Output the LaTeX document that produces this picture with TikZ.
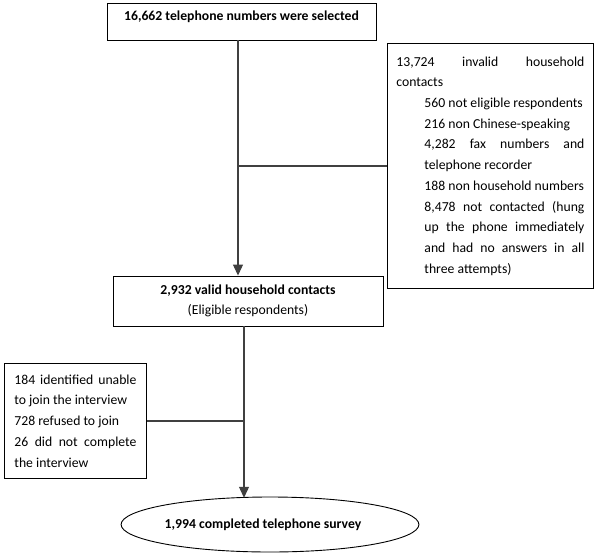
\documentclass[tikz,border=0pt]{standalone}
\usepackage{fontspec}
\setmainfont{Carlito}
\usetikzlibrary{arrows.meta,shapes.geometric}
\tikzset{
  box/.style={draw=black, line width=0.9pt, inner sep=0pt, font=\fontsize{13.7}{20.7}\selectfont},
  conn/.style={draw=black!75, line width=1.1pt},
  arr/.style={conn, -{Triangle[length=11pt,width=10pt]}},
}
\begin{document}
\begin{tikzpicture}[x=1pt,y=-1pt]
\useasboundingbox (0,0) rectangle (600,555);
\hyphenpenalty=10000 \exhyphenpenalty=10000
% top box
\node[box, minimum width=269pt, minimum height=37pt, text depth=12pt, font=\fontsize{13.7}{20.7}\selectfont\bfseries] (top) at (241.5,21.5) {16,662 telephone numbers were selected};
% right box
\node[box, anchor=north west, text width=188pt, inner xsep=9pt, minimum height=245pt, align=justify] (excl) at (387,43)
{13,724 invalid household\linebreak contacts\par
\leftskip=28pt
560 not eligible respondents\par
216 non Chinese-speaking\par
4,282 fax numbers and\linebreak telephone recorder\par
188 non household numbers\par
8,478 not contacted (hung\linebreak up the phone immediately\linebreak and had no answers in all\linebreak three attempts)\par};
% middle box
\node[box, minimum width=270pt, minimum height=50pt, align=center] (valid) at (248,301)
{\textbf{2,932 valid household contacts}\\(Eligible respondents)};
% left box
\node[box, anchor=north west, text width=122pt, inner xsep=10pt, minimum height=115pt, align=justify] (refuse) at (4,363)
{184 identified unable to join the interview\par
728 refused to join\par
26 did not complete the interview\par};
% ellipse
\node[box, ellipse, minimum width=296pt, minimum height=55pt, font=\fontsize{13.7}{20.7}\selectfont\bfseries] (done) at (270,524.5)
{1,994 completed telephone survey\hspace*{14pt}};
% connectors
\coordinate (a1) at (238,0);
\coordinate (a2) at (244,0);
\coordinate (j1) at (238,166);
\draw[arr] (a1 |- top.south) -- (a1 |- valid.north);
\draw[conn] (j1) -- (j1 -| excl.west);
\draw[arr] (a2 |- valid.south) -- (244,497.8);
\draw[conn] (refuse.east) -- (refuse.east -| a2);
\end{tikzpicture}
\end{document}
